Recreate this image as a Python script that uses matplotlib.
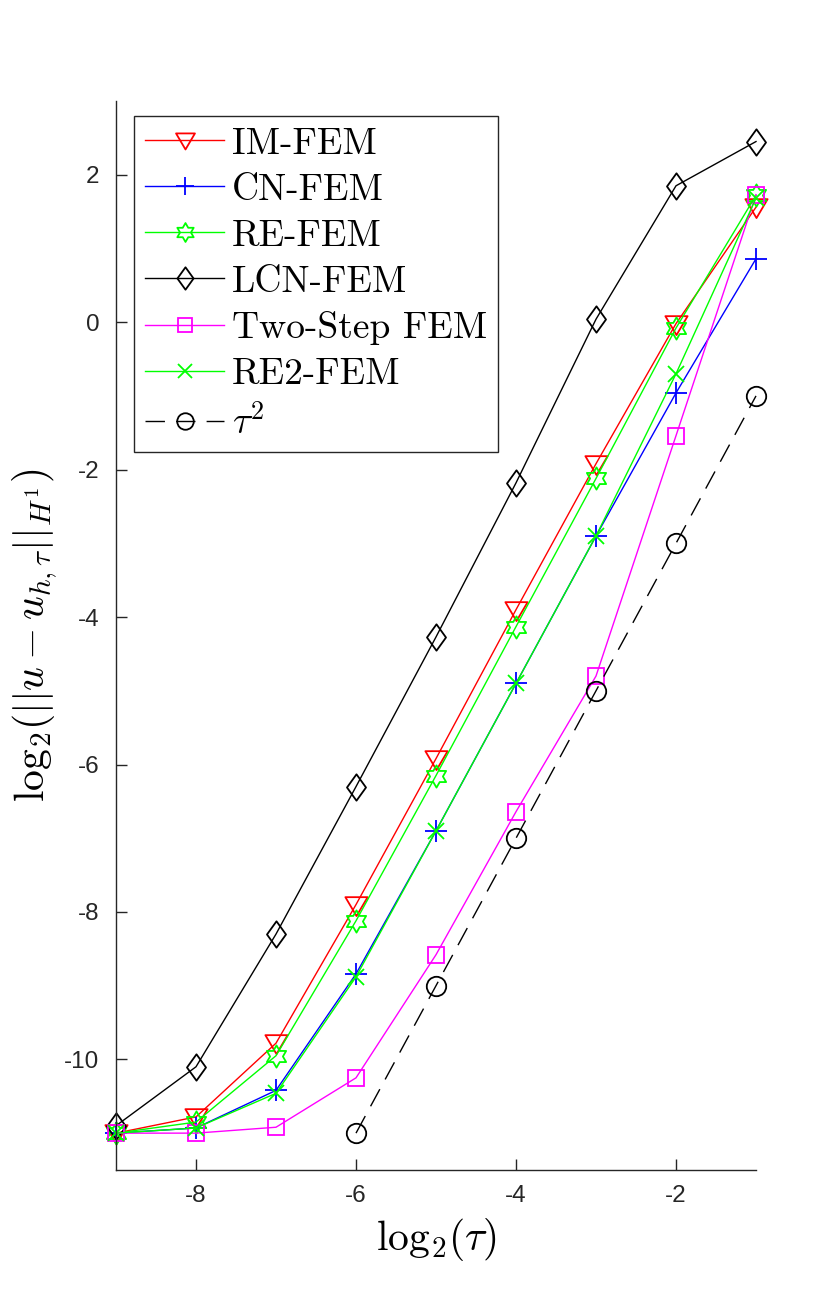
import numpy as np
import matplotlib
matplotlib.use('Agg')
import matplotlib.pyplot as plt
from matplotlib.path import Path

plt.rcParams['mathtext.fontset'] = 'cm'
plt.rcParams['axes.unicode_minus'] = False

# data (log2 of tau and log2 of H1 error)
log_tau = [-9, -8, -7, -6, -5, -4, -3, -2, -1]
im_fem = [-11.0, -10.78, -9.78, -7.9, -5.92, -3.9, -1.92, -0.02, 1.56]
cn_fem = [-11.0, -10.93, -10.42, -8.84, -6.9, -4.9, -2.9, -0.96, 0.86]
re_fem = [-11.0, -10.85, -9.95, -8.12, -6.15, -4.13, -2.12, -0.08, 1.72]
lcn_fem = [-10.9, -10.1, -8.3, -6.3, -4.27, -2.18, 0.04, 1.85, 2.45]
two_step = [-11.0, -11.0, -10.92, -10.25, -8.58, -6.64, -4.8, -1.54, 1.73]
re2_fem = [-11.0, -10.93, -10.46, -8.88, -6.9, -4.9, -2.9, -0.7, 1.68]
ref_tau = [-6, -5, -4, -3, -2, -1]
ref_tau2 = [-11, -9, -7, -5, -3, -1]

labels = ['IM-FEM', 'CN-FEM', 'RE-FEM', 'LCN-FEM', 'Two-Step FEM', 'RE2-FEM']

# matlab-like markers
ang = np.pi / 2 + np.arange(12) * np.pi / 6
rad = np.where(np.arange(12) % 2 == 0, 1.0, 1 / np.sqrt(3))
hexagram = Path(np.column_stack([rad * np.cos(ang), rad * np.sin(ang)]).tolist() + [[0, 1]], closed=True)
diamond = Path([[0, 1], [0.72, 0], [0, -1], [-0.72, 0], [0, 1]], closed=True)
tri_down = Path([[-1, 0.75], [1, 0.75], [0, -0.95], [-1, 0.75]], closed=True)

fig = plt.figure(figsize=(8.3, 13.16), dpi=100)
ax = fig.add_axes([116 / 830, 1 - 1170 / 1316, 640 / 830, 1069 / 1316])

lw = 1.0
mew = 1.3
kw = dict(lw=lw, mew=mew, clip_on=False)
ax.plot(log_tau, im_fem, color='#ff0000', marker=tri_down, ms=16, mfc='none', label=labels[0], **kw)
ax.plot(log_tau, cn_fem, color='#0000ff', marker='+', ms=16, label=labels[1], **kw)
ax.plot(log_tau, re_fem, color='#00ff00', marker=hexagram, ms=16, mfc='none', label=labels[2], **kw)
ax.plot(log_tau, lcn_fem, color='black', marker=diamond, ms=19, mfc='none', label=labels[3], **kw)
ax.plot(log_tau, two_step, color='#ff00ff', marker='s', ms=12, mfc='none', label=labels[4], **kw)
ax.plot(log_tau, re2_fem, color='#00ff00', marker='x', ms=12, label=labels[5], **kw)
ax.plot(ref_tau, ref_tau2, color='black', ls=(0, (14, 8)), marker='o', ms=14, mfc='none',
        label=r'$\tau^2$', **kw)

ax.set_xlim(-9, -1)
ax.set_ylim(-11.5, 3)
ax.set_xticks([-8, -6, -4, -2])
ax.set_yticks([-10, -8, -6, -4, -2, 0, 2])

for s in ['top', 'right']:
    ax.spines[s].set_visible(False)
for s in ['left', 'bottom']:
    ax.spines[s].set_color('#262626')
    ax.spines[s].set_linewidth(1.0)

ax.tick_params(direction='in', length=8, width=1.0, color='#262626', labelcolor='#262626', labelsize=17.5)
ax.tick_params(axis='x', pad=11)
ax.tick_params(axis='y', pad=12)
for t in ax.get_xticklabels() + ax.get_yticklabels():
    t.set_fontfamily('Liberation Sans')

ax.set_xlabel(r'$\mathrm{log}_2(\tau)$', fontsize=30, labelpad=6)
ax.set_ylabel(r'$\mathrm{log}_2(||u-u_{h,\tau}||_{H^1})$', fontsize=30, labelpad=4)

leg = ax.legend(loc='upper left', bbox_to_anchor=(18 / 640, 1 - 15 / 1069), borderaxespad=0,
                prop={'family': 'cmr10', 'size': 27}, handlelength=2.1, handletextpad=0.2,
                labelspacing=0.34, borderpad=0.3, fancybox=False, framealpha=1, markerscale=0.85)
leg.get_frame().set_edgecolor('#262626')
leg.get_frame().set_linewidth(1.0)

plt.savefig('out.png', dpi=100)
